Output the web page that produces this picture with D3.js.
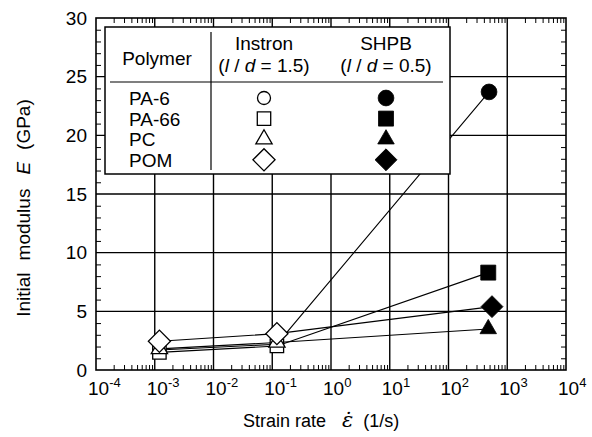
<!DOCTYPE html>
<html lang="en">
<head>
<meta charset="UTF-8">
<title>Initial modulus vs strain rate</title>
<script src="https://d3js.org/d3.v7.min.js"></script>
<style>
body { margin: 0; background: #fff; }
svg { display: block; font-family: "Liberation Sans", Arial, Helvetica, sans-serif; }
.grid line { stroke: #000; stroke-width: 1.4; }
.minor line { stroke: #000; stroke-width: 1; }
.minor path, .labels path { display: none; }
</style>
</head>
<body>
<svg width="592" height="437"></svg>
<script>
// polymers, Instron (quasi-static) and SHPB (impact) results
var polymers = ["PA-6", "PA-66", "PC", "POM"];
var instronRates = [1.2e-3, 1.2e-1];
var instronE = [[1.7, 2.2], [1.5, 2.05], [1.8, 2.35], [2.45, 3.1]];
var shpbRates = [490, 475, 475, 550];
var shpbE = [23.7, 8.3, 3.5, 5.4];

var xExponents = [-4, -3, -2, -1, 0, 1, 2, 3, 4];
var yTicks = [0, 5, 10, 15, 20, 25, 30];

var svg = d3.select("svg");
var plotL = 96, plotR = 566, plotT = 18, plotB = 370;

var x = d3.scaleLog().domain([1e-4, 1e4]).range([plotL, plotR]);
var y = d3.scaleLinear().domain([0, 30]).range([plotB, plotT]);

// open marker = Instron, filled = SHPB
var shapes = [
  { type: d3.symbolCircle, open: 133, filled: 195, rot: 0 },
  { type: d3.symbolSquare, open: 180, filled: 225, rot: 0 },
  { type: d3.symbolTriangle, open: 115, filled: 118, rot: 0 },
  { type: d3.symbolSquare, open: 245, filled: 240, rot: 45 }
];

// grid
var grid = svg.append("g").attr("class", "grid");
grid.selectAll(".gx").data(xExponents.slice(1, -1)).enter().append("line")
  .attr("x1", function(d) { return x(Math.pow(10, d)); })
  .attr("x2", function(d) { return x(Math.pow(10, d)); })
  .attr("y1", plotT).attr("y2", plotB);
grid.selectAll(".gy").data(yTicks.slice(1, -1)).enter().append("line")
  .attr("x1", plotL).attr("x2", plotR)
  .attr("y1", function(d) { return y(d); })
  .attr("y2", function(d) { return y(d); });

// minor ticks (inside)
var minorX = [];
xExponents.slice(0, -1).forEach(function(e) {
  for (var k = 2; k <= 9; k++) minorX.push(k * Math.pow(10, e));
});
var minorY = d3.range(0, 31).filter(function(v) { return v % 5 != 0; });

svg.append("g").attr("class", "minor")
  .attr("transform", "translate(0," + plotB + ")")
  .call(d3.axisBottom(x).tickValues(minorX).tickSize(-5).tickFormat(""));
svg.append("g").attr("class", "minor")
  .attr("transform", "translate(0," + plotT + ")")
  .call(d3.axisTop(x).tickValues(minorX).tickSize(-5).tickFormat(""));
svg.append("g").attr("class", "minor")
  .attr("transform", "translate(" + plotL + ",0)")
  .call(d3.axisLeft(y).tickValues(minorY).tickSize(-5).tickFormat(""));
svg.append("g").attr("class", "minor")
  .attr("transform", "translate(" + plotR + ",0)")
  .call(d3.axisRight(y).tickValues(minorY).tickSize(-5).tickFormat(""));

// data lines
var line = d3.line().x(function(d) { return x(d[0]); }).y(function(d) { return y(d[1]); });
polymers.forEach(function(p, i) {
  var pts = [[instronRates[0], instronE[i][0]], [instronRates[1], instronE[i][1]], [shpbRates[i], shpbE[i]]];
  svg.append("path").attr("d", line(pts))
    .attr("fill", "none").attr("stroke", "#000").attr("stroke-width", 1.1);
});

function marker(g, i, filled) {
  var s = shapes[i];
  return g.append("path")
    .attr("d", d3.symbol().type(s.type).size(filled ? s.filled : s.open)())
    .attr("fill", filled ? "#000" : "#fff")
    .attr("stroke", "#000")
    .attr("stroke-width", filled ? 0.8 : 1.3);
}

polymers.forEach(function(p, i) {
  instronRates.forEach(function(r, j) {
    marker(svg, i, false)
      .attr("transform", "translate(" + x(r) + "," + y(instronE[i][j]) + ") rotate(" + shapes[i].rot + ")");
  });
});
polymers.forEach(function(p, i) {
  marker(svg, i, true)
    .attr("transform", "translate(" + x(shpbRates[i]) + "," + y(shpbE[i]) + ") rotate(" + shapes[i].rot + ")");
});

// legend table
var lg = svg.append("g");
lg.append("rect").attr("x", 105).attr("y", 27).attr("width", 345).attr("height", 147)
  .attr("fill", "#fff").attr("stroke", "#000").attr("stroke-width", 1.5);
lg.append("line").attr("x1", 211).attr("x2", 211).attr("y1", 32).attr("y2", 170)
  .attr("stroke", "#000").attr("stroke-width", 1.2);
lg.append("line").attr("x1", 110).attr("x2", 443).attr("y1", 82).attr("y2", 82)
  .attr("stroke", "#000").attr("stroke-width", 1.2);

lg.append("text").attr("x", 157).attr("y", 65).attr("text-anchor", "middle")
  .attr("font-size", 19).text("Polymer");

function header(cx, name, ratio) {
  lg.append("text").attr("x", cx).attr("y", 50).attr("text-anchor", "middle")
    .attr("font-size", 19).text(name);
  var t = lg.append("text").attr("x", cx).attr("y", 72).attr("text-anchor", "middle")
    .attr("font-size", 19);
  t.append("tspan").text("(");
  t.append("tspan").attr("font-style", "italic").text("l");
  t.append("tspan").text(" / ");
  t.append("tspan").attr("font-style", "italic").text("d");
  t.append("tspan").text(" = " + ratio + ")");
}
header(264, "Instron", "1.5");
header(386, "SHPB", "0.5");

polymers.forEach(function(p, i) {
  var ry = 98 + i * 20.6;
  lg.append("text").attr("x", 129).attr("y", ry + 7).attr("font-size", 19).text(p);
  marker(lg, i, false).attr("transform", "translate(264," + ry + ") rotate(" + shapes[i].rot + ")");
  marker(lg, i, true).attr("transform", "translate(386," + ry + ") rotate(" + shapes[i].rot + ")");
});

// frame
svg.append("rect").attr("x", plotL).attr("y", plotT).attr("width", plotR - plotL).attr("height", plotB - plotT)
  .attr("fill", "none").attr("stroke", "#000").attr("stroke-width", 1.6);

// y tick labels
svg.append("g").attr("class", "labels")
  .attr("transform", "translate(" + plotL + ",0)")
  .call(d3.axisLeft(y).tickValues(yTicks).tickSize(0).tickPadding(9))
  .call(function(g) { g.selectAll("text").attr("font-size", 19).attr("font-family", null).attr("fill", "#000"); });

// x tick labels 10^n
xExponents.forEach(function(e) {
  var t = svg.append("text").attr("x", x(Math.pow(10, e)) - 8).attr("y", 395)
    .attr("text-anchor", "start").attr("font-size", 19);
  t.append("tspan").text("10");
  t.append("tspan").attr("font-size", 13).attr("dy", -8).text(e < 0 ? "-" + (-e) : e);
});

// axis titles
var xt = svg.append("text").attr("x", 243).attr("y", 427).attr("font-size", 18);
xt.append("tspan").text("Strain rate");
xt.append("tspan").attr("dx", 16).attr("font-family", "DejaVu Serif, serif").attr("font-style", "italic")
  .attr("font-size", 21).text("\u03B5\u0307");
xt.append("tspan").attr("dx", 10).text("(1/s)");

var yt = svg.append("text").attr("transform", "translate(30,208) rotate(-90)")
  .attr("text-anchor", "middle").attr("font-size", 19);
yt.append("tspan").text("Initial");
yt.append("tspan").attr("dx", 12).text("modulus");
yt.append("tspan").attr("dx", 14).attr("font-style", "italic").text("E");
yt.append("tspan").attr("dx", 12).text("(GPa)");
</script>
</body>
</html>
